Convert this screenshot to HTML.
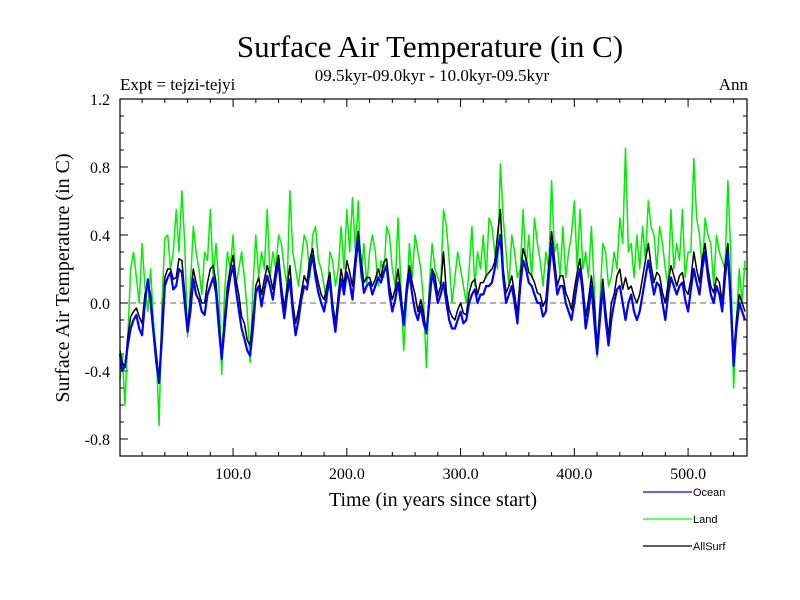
<!DOCTYPE html>
<html><head><meta charset="utf-8"><style>
body{margin:0;background:#fff}
svg{display:block}
text{font-family:"Liberation Serif",serif;fill:#000}
.lg{font-family:"Liberation Sans",sans-serif;font-size:11px}
</style></head><body>
<svg id="chart" width="800" height="600" xmlns="http://www.w3.org/2000/svg">
<text x="430" y="57" font-size="31" text-anchor="middle">Surface Air Temperature (in C)</text>
<text x="432" y="81" font-size="17" text-anchor="middle">09.5kyr-09.0kyr - 10.0kyr-09.5kyr</text>
<text x="120" y="90" font-size="17">Expt = tejzi-tejyi</text>
<text x="748" y="90" font-size="17" text-anchor="end">Ann</text>
<text x="433" y="506" font-size="20" text-anchor="middle">Time (in years since start)</text>
<text transform="translate(69,278) rotate(-90)" font-size="20" text-anchor="middle">Surface Air Temperature (in C)</text>
<g id="axes"></g>
<g id="series"></g>
<rect x="120" y="99" width="627" height="357" fill="none" stroke="#000" stroke-width="1.2"/>
<g>
<line x1="643" y1="492" x2="692" y2="492" stroke="#0000ff" stroke-width="1.3"/>
<text class="lg" x="693" y="496">Ocean</text>
<line x1="643" y1="519" x2="692" y2="519" stroke="#00ff00" stroke-width="1.3"/>
<text class="lg" x="693" y="523">Land</text>
<line x1="643" y1="546" x2="692" y2="546" stroke="#000" stroke-width="1.3"/>
<text class="lg" x="693" y="550">AllSurf</text>
</g>
</svg>
<script>
const startYear = 0;
const stepYear = 5;
const ocean = [-0.30,-0.37,-0.15,-0.07,-0.19,0.14,-0.17,-0.47,0.10,0.18,0.10,0.18,-0.17,0.14,0.02,-0.07,0.10,0.06,-0.33,0.04,0.22,-0.04,-0.21,-0.31,0.06,-0.02,0.16,0.02,0.24,-0.09,0.14,-0.19,0.02,0.08,0.28,0.06,-0.05,0.14,-0.17,0.14,0.18,0.02,0.38,0.06,0.12,0.10,0.12,0.22,-0.05,0.12,-0.13,0.18,-0.05,-0.02,-0.17,0.18,0.00,0.12,-0.10,-0.15,-0.05,-0.10,0.05,0.00,0.05,0.10,0.20,0.40,0.00,0.10,-0.12,0.25,0.12,0.05,0.00,-0.05,0.35,0.05,0.10,-0.05,0.00,0.20,-0.15,0.10,-0.30,0.10,-0.25,0.00,0.10,-0.10,0.05,-0.10,0.05,0.25,0.05,0.10,-0.10,0.15,0.05,0.12,-0.05,0.20,0.05,0.30,0.05,0.10,-0.05,0.30,-0.37,0.00,-0.10];
const oceanMid = [-0.4,-0.25,-0.1,-0.15,0.0,0.0,-0.35,-0.2,0.15,0.08,0.2,0.0,-0.05,0.05,-0.05,0.05,0.15,-0.15,-0.15,0.15,0.08,-0.15,-0.28,-0.15,0.1,0.08,0.1,0.15,0.05,0.05,-0.05,-0.1,0.1,0.2,0.15,0.0,0.05,-0.05,0.0,0.05,0.12,0.22,0.2,0.1,0.05,0.15,0.18,0.05,0.02,0.0,0.05,0.05,-0.1,-0.12,0.0,0.1,0.05,0.0,-0.15,-0.1,-0.12,0.0,0.08,0.05,0.1,0.12,0.3,0.15,0.05,0.0,0.1,0.2,0.1,0.0,-0.08,0.15,0.2,0.1,0.0,-0.1,0.12,0.05,-0.05,-0.1,-0.1,-0.1,-0.1,0.08,0.0,0.0,-0.05,-0.05,0.15,0.15,0.12,0.0,0.05,0.1,0.1,0.02,0.08,0.12,0.2,0.15,0.0,0.05,0.15,0.0,-0.15,-0.05];
const land = [-0.45,-0.60,0.20,0.15,0.35,-0.05,-0.10,-0.72,0.38,0.20,0.55,0.66,-0.20,0.45,0.20,0.30,0.55,0.35,-0.42,0.30,0.40,0.20,0.15,-0.35,0.40,0.30,0.55,0.30,0.40,0.20,0.66,0.20,0.25,0.35,0.40,0.25,0.10,0.30,0.10,0.45,0.55,0.62,0.60,0.35,0.30,0.30,0.25,0.45,0.20,0.50,-0.28,0.35,0.40,0.20,-0.38,0.35,0.15,0.55,0.25,0.15,0.20,0.00,0.45,0.30,0.40,0.50,0.30,0.82,0.30,0.40,0.15,0.55,0.40,0.50,0.25,0.30,0.72,0.35,0.45,0.30,0.60,0.55,0.30,0.45,-0.32,0.35,0.10,0.30,0.50,0.91,0.35,0.40,0.45,0.60,0.40,0.45,0.20,0.55,0.35,0.55,0.30,0.85,0.40,0.50,0.35,0.40,0.25,0.72,-0.50,0.20,0.25];
const landMid = [-0.3,-0.2,0.3,0.0,0.1,0.2,-0.3,0.0,0.4,0.3,0.3,0.35,0.1,0.3,0.05,0.25,0.15,0.1,0.05,0.2,0.1,0.3,-0.05,0.1,0.15,0.2,0.15,0.2,0.35,0.1,0.3,0.1,0.4,0.15,0.45,0.2,0.0,0.25,0.2,0.2,0.3,0.3,0.15,0.1,0.4,0.1,0.15,0.4,0.1,0.1,0.0,0.15,0.3,0.0,0.1,0.2,0.1,0.45,0.0,0.3,0.1,0.2,0.1,0.2,0.15,0.45,0.2,0.5,0.1,0.3,0.2,0.2,0.15,0.35,0.1,0.2,0.3,0.15,0.15,0.4,0.2,0.2,0.15,0.1,0.0,0.3,0.15,0.2,0.35,0.3,0.15,0.2,0.25,0.45,0.2,0.35,0.1,0.2,0.25,0.15,0.3,0.5,0.2,0.4,0.1,0.3,0.2,0.3,-0.1,0.0];
const allSurf = [-0.28,-0.38,-0.08,-0.03,-0.12,0.12,-0.15,-0.45,0.15,0.20,0.15,0.25,-0.15,0.20,0.06,0.00,0.20,0.12,-0.30,0.10,0.28,0.05,-0.12,-0.25,0.10,0.05,0.22,0.08,0.28,-0.03,0.22,-0.12,0.06,0.12,0.32,0.12,0.02,0.18,-0.12,0.20,0.25,0.10,0.42,0.12,0.15,0.14,0.15,0.26,0.02,0.20,-0.10,0.22,0.05,0.02,-0.18,0.20,0.04,0.30,-0.04,-0.10,0.00,-0.07,0.12,0.05,0.12,0.18,0.24,0.55,0.06,0.16,-0.06,0.32,0.18,0.12,0.05,0.02,0.42,0.10,0.16,0.02,0.08,0.26,-0.08,0.16,-0.25,0.14,-0.20,0.05,0.20,0.15,0.10,0.00,0.15,0.35,0.12,0.16,0.00,0.22,0.10,0.18,0.05,0.30,0.12,0.35,0.10,0.15,0.00,0.35,-0.30,0.05,-0.05];
const allSurfMid = [-0.35,-0.2,-0.05,-0.08,0.05,0.05,-0.3,-0.12,0.2,0.14,0.26,0.06,0.02,0.12,0.0,0.12,0.22,-0.1,-0.1,0.2,0.14,-0.08,-0.22,-0.08,0.15,0.14,0.16,0.2,0.1,0.1,0.0,-0.04,0.16,0.26,0.2,0.05,0.1,0.0,0.05,0.1,0.18,0.28,0.26,0.15,0.1,0.2,0.24,0.1,0.08,0.05,0.1,0.12,-0.05,-0.06,0.05,0.16,0.1,0.06,-0.08,-0.04,-0.06,0.06,0.14,0.12,0.16,0.2,0.4,0.2,0.1,0.05,0.16,0.26,0.16,0.06,-0.02,0.22,0.26,0.16,0.06,-0.04,0.18,0.1,0.02,0.0,-0.04,-0.04,0.0,0.16,0.08,0.08,0.04,0.05,0.25,0.22,0.18,0.06,0.12,0.16,0.16,0.08,0.14,0.2,0.26,0.2,0.06,0.12,0.22,0.06,-0.1,0.0];
const xTicks = [100,200,300,400,500];
const xTickLabels = ["100.0","200.0","300.0","400.0","500.0"];
const yTicks = [-0.8,-0.4,0.0,0.4,0.8,1.2];
const yTickLabels = ["-0.8","-0.4","0.0","0.4","0.8","1.2"];

const NS = "http://www.w3.org/2000/svg";
const X0 = 120, X1 = 747, Y0 = 99, Y1 = 456;
const xMin = 0.6, xMax = 551.8, yMin = -0.9, yMax = 1.2;
const sx = v => X0 + (v - xMin) / (xMax - xMin) * (X1 - X0);
const sy = v => Y0 + (yMax - v) / (yMax - yMin) * (Y1 - Y0);
const axes = document.getElementById('axes');
const series = document.getElementById('series');
function mk(tag, attrs, parent) {
  const e = document.createElementNS(NS, tag);
  for (const k in attrs) e.setAttribute(k, attrs[k]);
  parent.appendChild(e);
  return e;
}
const zl = mk('line', {x1: X0, x2: X1, y1: sy(0), y2: sy(0), stroke: '#666', 'stroke-width': 1, 'stroke-dasharray': '6,4'}, axes);


for (let v = 20; v < xMax; v += 20) {
  const major = v % 100 === 0;
  const L = major ? 8 : 4;
  const x = sx(v);
  const t1 = mk('line', {x1: x, x2: x, y1: Y1, y2: Y1 - L, stroke: '#000', 'stroke-width': 1}, axes);
  
  
  const t2 = mk('line', {x1: x, x2: x, y1: Y0, y2: Y0 + L, stroke: '#000', 'stroke-width': 1}, axes);
  
  
}
xTicks.forEach((v, i) => {
  const t = mk('text', {x: sx(v), y: 479, 'font-size': 16, 'text-anchor': 'middle'}, axes);
  t.textContent = xTickLabels[i];
  
  
});
for (let k = -9; k <= 12; k++) {
  const v = k / 10;
  const major = (k % 4 === 0);
  const L = major ? 8 : 4;
  const y = sy(v);
  const t1 = mk('line', {x1: X0, x2: X0 + L, y1: y, y2: y, stroke: '#000', 'stroke-width': 1}, axes);
  
  
  const t2 = mk('line', {x1: X1, x2: X1 - L, y1: y, y2: y, stroke: '#000', 'stroke-width': 1}, axes);
  
  
}
yTicks.forEach((v, i) => {
  const t = mk('text', {x: 110, y: sy(v) + 6, 'font-size': 16, 'text-anchor': 'end'}, axes);
  t.textContent = yTickLabels[i];
  
  
});
function drawLine(main, mid, color, w, name) {
  const pts = [];
  main.forEach((v, i) => {
    const yr = startYear + i * stepYear;
    pts.push(sx(Math.min(Math.max(yr, xMin), xMax)).toFixed(1) + ',' + sy(v).toFixed(1));
    if (i < mid.length && i < main.length - 1) {
      pts.push(sx(Math.min(yr + stepYear / 2, xMax)).toFixed(1) + ',' + sy(mid[i]).toFixed(1));
    }
  });
  const p = mk('polyline', {points: pts.join(' '), fill: 'none', stroke: color, 'stroke-width': w, 'stroke-linejoin': 'round'}, series);
  
  
}
drawLine(land, landMid, '#00ee00', 1.5, 'land-series-line');
drawLine(allSurf, allSurfMid, '#000000', 1.5, 'allsurf-series-line');
drawLine(ocean, oceanMid, '#0000ff', 2.2, 'ocean-series-line');
</script>
</body></html>
